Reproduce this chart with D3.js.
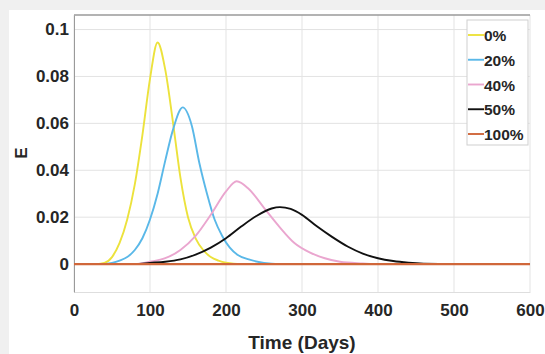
<!DOCTYPE html>
<html>
<head>
<meta charset="utf-8">
<script src="https://cdn.jsdelivr.net/npm/d3@7.9.0/dist/d3.min.js"></script>
<style>
  body { margin: 0; background: #f0f0f0; }
  svg { display: block; }
  text { font-family: "Liberation Sans", Arial, sans-serif; font-weight: bold; fill: #262626; }
</style>
</head>
<body>
<svg id="chart" width="545" height="354"></svg>
<script>
// series labels and colours
const seriesNames = ['0%', '20%', '40%', '50%', '100%'];
const seriesColors = ['#ece23c', '#5ab8e8', '#eaa6cf', '#111111', '#d0673a'];

// days / E
const days0 = [0, 30, 40, 50, 60, 70, 80, 90, 100, 110, 120, 130, 140, 150, 160, 170, 180, 190, 200, 220, 600];
const e0 = [0, 0, 0.0005, 0.003, 0.009, 0.019, 0.034, 0.055, 0.079, 0.0945, 0.083, 0.061, 0.037, 0.02, 0.011, 0.006, 0.003, 0.0015, 0.0006, 0, 0];

const days20 = [0, 40, 50, 60, 70, 80, 90, 100, 110, 120, 130, 143, 155, 165, 175, 185, 195, 205, 215, 230, 250, 270, 600];
const e20 = [0, 0, 0.0005, 0.0015, 0.003, 0.006, 0.011, 0.019, 0.03, 0.044, 0.057, 0.0668, 0.059, 0.043, 0.03, 0.019, 0.012, 0.007, 0.004, 0.002, 0.0005, 0, 0];

const days40 = [0, 80, 100, 120, 140, 160, 180, 200, 214, 230, 250, 270, 290, 310, 330, 350, 380, 400, 600];
const e40 = [0, 0, 0.001, 0.0025, 0.006, 0.012, 0.021, 0.031, 0.0353, 0.032, 0.024, 0.016, 0.009, 0.005, 0.0025, 0.001, 0.0003, 0, 0];

const days50 = [0, 80, 100, 120, 140, 160, 180, 200, 220, 240, 260, 271, 285, 300, 320, 340, 360, 380, 400, 420, 440, 460, 500, 600];
const e50 = [0, 0, 0.0005, 0.001, 0.002, 0.004, 0.007, 0.011, 0.016, 0.0205, 0.0237, 0.0243, 0.0235, 0.021, 0.016, 0.0115, 0.0075, 0.0045, 0.0025, 0.0013, 0.0006, 0.0002, 0, 0];

const days100 = [0, 600];
const e100 = [0, 0];

const xTicks = [0, 100, 200, 300, 400, 500, 600];
const yTicks = [0, 0.02, 0.04, 0.06, 0.08, 0.1];

const allDays = [days0, days20, days40, days50, days100];
const allE = [e0, e20, e40, e50, e100];

const svg = d3.select('#chart');
svg.append('rect').attr('x', 9).attr('y', 10).attr('width', 536).attr('height', 344).attr('fill', '#fff');

const plotLeft = 74, plotRight = 530, plotTop = 15, plotBottom = 292;
const x = d3.scaleLinear().domain([0, 600]).range([plotLeft, plotRight]);
const y = d3.scaleLinear().domain([-0.0119, 0.1062]).range([plotBottom, plotTop]);

// grid
svg.append('g').selectAll('line').data(xTicks).join('line')
  .attr('x1', d => x(d)).attr('x2', d => x(d)).attr('y1', plotTop).attr('y2', plotBottom)
  .attr('stroke', '#e3e3e3').attr('stroke-width', 1);
svg.append('g').selectAll('line').data(yTicks).join('line')
  .attr('x1', plotLeft).attr('x2', plotRight).attr('y1', d => y(d)).attr('y2', d => y(d))
  .attr('stroke', '#e3e3e3').attr('stroke-width', 1);

// axes
const xAxis = svg.append('g').attr('transform', `translate(0,${plotBottom})`)
  .call(d3.axisBottom(x).tickValues(xTicks).tickSize(0).tickPadding(12).tickFormat(d3.format('d')));
const yAxis = svg.append('g').attr('transform', `translate(${plotLeft},0)`)
  .call(d3.axisLeft(y).tickValues(yTicks).tickSize(0).tickPadding(5).tickFormat(d => d === 0 ? '0' : String(+d.toFixed(2))));
[xAxis, yAxis].forEach(g => {
  g.select('.domain').attr('stroke', '#9a9a9a');
  g.selectAll('text').attr('font-size', 17).attr('font-family', null).style('fill', '#262626');
});
xAxis.select('.domain').attr('stroke', '#dedede');
svg.append('line').attr('x1', plotLeft).attr('x2', plotRight).attr('y1', plotTop).attr('y2', plotTop)
  .attr('stroke', '#9a9a9a').attr('stroke-width', 1.5);

// lines, in plotting order so 100% lies on top
const line = d3.line().x(d => x(d[0])).y(d => y(d[1])).curve(d3.curveMonotoneX);
[0, 1, 2, 3, 4].forEach(i => {
  const pts = allDays[i].map((t, j) => [t, allE[i][j]]);
  svg.append('path').datum(pts).attr('d', line)
    .attr('fill', 'none').attr('stroke', seriesColors[i]).attr('stroke-width', i === 4 ? 2.2 : 1.9);
});

// labels
svg.append('text').attr('x', 302).attr('y', 349).attr('text-anchor', 'middle').attr('font-size', 19).text('Time (Days)');
svg.append('text').attr('transform', 'translate(27,153) rotate(-90)').attr('text-anchor', 'middle').attr('font-size', 17).text('E');

// legend
const lg = svg.append('g');
lg.append('rect').attr('x', 467).attr('y', 20).attr('width', 61).attr('height', 125)
  .attr('fill', '#fff').attr('stroke', '#cfcfcf');
const legendY = d3.scalePoint().domain(seriesNames).range([35, 134]);
seriesNames.forEach((n, i) => {
  const yy = legendY(n);
  lg.append('line').attr('x1', 468).attr('x2', 484).attr('y1', yy).attr('y2', yy)
    .attr('stroke', seriesColors[i]).attr('stroke-width', 1.9);
  lg.append('text').attr('x', 484).attr('y', yy + 6).attr('font-size', 15.5).text(n);
});
</script>
</body>
</html>
